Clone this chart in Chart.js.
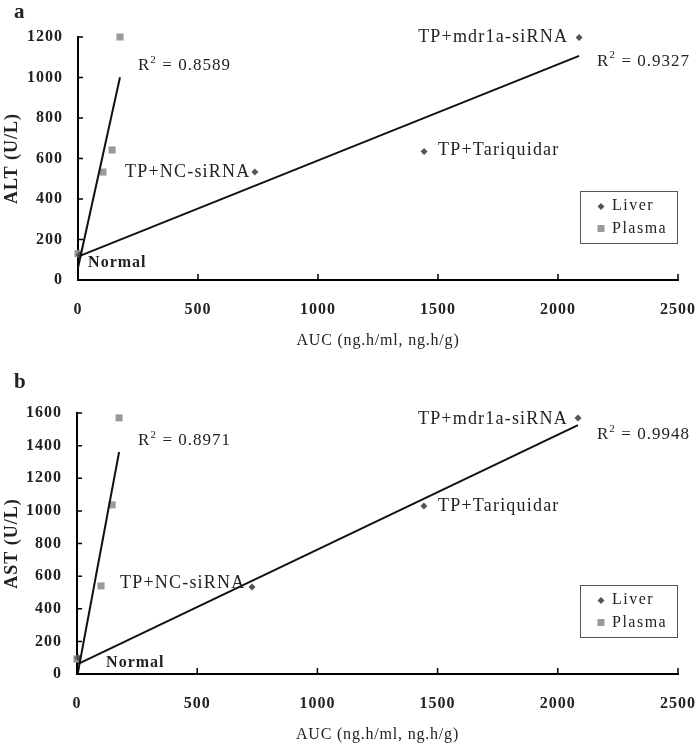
<!DOCTYPE html>
<html>
<head>
<meta charset="utf-8">
<script src="https://cdn.jsdelivr.net/npm/chart.js@4.4.1/dist/chart.umd.min.js"></script>
<style>
  html, body { margin: 0; padding: 0; background: #fff; }
  .panel { position: absolute; left: 0; width: 700px; }
  #wrapA { top: 0; height: 370px; }
  #wrapB { top: 370px; height: 379px; }
</style>
</head>
<body>
<div class="panel" id="wrapA"><canvas id="chartA" width="700" height="370"></canvas></div>
<div class="panel" id="wrapB"><canvas id="chartB" width="700" height="379"></canvas></div>
<script>
const FONT = '"Liberation Serif", "Times New Roman", serif'

// panel a: ALT vs AUC
const liverAucA = [5, 737, 1442, 2088]
const liverAltA = [125, 533, 635, 1197]
const plasmaAucA = [0, 104, 142, 175]
const plasmaAltA = [130, 533, 642, 1200]

// panel b: AST vs AUC
const liverAucB = [5, 728, 1443, 2084]
const liverAstB = [100, 534, 1030, 1570]
const plasmaAucB = [0, 100, 146, 175]
const plasmaAstB = [92, 540, 1037, 1570]

const xTicks = [0, 500, 1000, 1500, 2000, 2500]
const yTicksA = [0, 200, 400, 600, 800, 1000, 1200]
const yTicksB = [0, 200, 400, 600, 800, 1000, 1200, 1400, 1600]

// text notes, placed in data units
const notesA = [
  { text: "TP+mdr1a-siRNA", x: 2042, y: 1200, align: "right" },
  { text: "TP+Tariquidar", x: 1500, y: 642 },
  { text: "TP+NC-siRNA", x: 196, y: 533 },
  { text: "Normal", x: 42, y: 84, bold: true },
  { r2: "0.8589", x: 250, y: 1057 },
  { r2: "0.9327", x: 2163, y: 1081 }
]
const notesB = [
  { text: "TP+mdr1a-siRNA", x: 2042, y: 1564, align: "right" },
  { text: "TP+Tariquidar", x: 1502, y: 1031 },
  { text: "TP+NC-siRNA", x: 179, y: 558 },
  { text: "Normal", x: 121, y: 67, bold: true },
  { r2: "0.8971", x: 254, y: 1429 },
  { r2: "0.9948", x: 2163, y: 1466 }
]

function pts(xs, ys) {
  return xs.map((x, i) => ({ x: x, y: ys[i] }))
}

// least squares trendline over the data range
function fit(xs, ys) {
  const n = xs.length
  const mx = xs.reduce((a, b) => a + b, 0) / n
  const my = ys.reduce((a, b) => a + b, 0) / n
  let sxy = 0, sxx = 0
  for (let i = 0; i < n; i++) {
    sxy += (xs[i] - mx) * (ys[i] - my)
    sxx += (xs[i] - mx) * (xs[i] - mx)
  }
  const k = sxy / sxx
  const b = my - k * mx
  const x0 = Math.min(...xs), x1 = Math.max(...xs)
  return [{ x: x0, y: k * x0 + b }, { x: x1, y: k * x1 + b }]
}

const decor = {
  id: "decor",
  beforeDraw(chart) {
    // the reference type is set a little wide
    chart.ctx.letterSpacing = "1px"
  },
  afterDraw(chart, args, o) {
    const { ctx, chartArea: a, scales: { x, y } } = chart
    ctx.save()

    // inward tick marks
    ctx.strokeStyle = "#000"
    ctx.lineWidth = 1.5
    ctx.beginPath()
    x.ticks.forEach(t => {
      const px = x.getPixelForValue(t.value)
      ctx.moveTo(px, a.bottom)
      ctx.lineTo(px, a.bottom - 6)
    })
    y.ticks.forEach(t => {
      const py = y.getPixelForValue(t.value)
      ctx.moveTo(a.left, py)
      ctx.lineTo(a.left + 5, py)
    })
    ctx.stroke()

    ctx.fillStyle = "#222"
    ctx.textBaseline = "middle"

    // panel letter
    ctx.letterSpacing = "0px"
    ctx.font = "bold 21px " + FONT
    ctx.textAlign = "left"
    ctx.fillText(o.letter, 14, 13)

    // axis titles
    ctx.letterSpacing = "0.8px"
    ctx.font = "16px " + FONT
    ctx.textAlign = "center"
    ctx.fillText("AUC (ng.h/ml, ng.h/g)", (a.left + a.right) / 2, a.bottom + o.xTitleGap)
    ctx.save()
    ctx.translate(12, (a.top + a.bottom) / 2)
    ctx.rotate(-Math.PI / 2)
    ctx.letterSpacing = "1px"
    ctx.font = "bold 18px " + FONT
    ctx.fillText(o.yTitle, 0, 0)
    ctx.restore()

    // notes
    o.notes.forEach(n => {
      const px = x.getPixelForValue(n.x)
      const py = y.getPixelForValue(n.y)
      ctx.textAlign = n.align || "left"
      if (n.r2) {
        ctx.letterSpacing = "1px"
        ctx.font = "17px " + FONT
        ctx.fillText("R", px, py)
        const w = ctx.measureText("R").width
        ctx.font = "11px " + FONT
        ctx.fillText("2", px + w, py - 6)
        ctx.font = "17px " + FONT
        ctx.fillText("= " + n.r2, px + w + 12, py)
      } else if (n.bold) {
        ctx.letterSpacing = "1px"
        ctx.font = "bold 16px " + FONT
        ctx.fillText(n.text, px, py)
      } else {
        ctx.letterSpacing = "1.2px"
        ctx.font = "18px " + FONT
        ctx.fillText(n.text, px, py)
      }
    })

    // legend box
    const bw = 97, bh = 52
    const bx = a.right - 1 - bw, by = a.bottom - 37 - bh
    ctx.strokeStyle = "#555"
    ctx.lineWidth = 1
    ctx.strokeRect(bx + 0.5, by + 0.5, bw, bh)
    const mx = bx + 21
    ctx.fillStyle = "#555"
    ctx.beginPath()
    ctx.moveTo(mx, by + 12); ctx.lineTo(mx + 3.5, by + 15.5)
    ctx.lineTo(mx, by + 19); ctx.lineTo(mx - 3.5, by + 15.5)
    ctx.closePath(); ctx.fill()
    ctx.fillStyle = "#9a9a9a"
    ctx.fillRect(mx - 3.5, by + 34, 7, 7)
    ctx.fillStyle = "#222"
    ctx.letterSpacing = "1.5px"
    ctx.font = "16px " + FONT
    ctx.textAlign = "left"
    ctx.fillText("Liver", mx + 11, by + 15)
    ctx.fillText("Plasma", mx + 11, by + 38)

    ctx.restore()
  }
}

function makeChart(id, liver, plasma, yTicks, yMax, opt) {
  const liverFit = fit(liver[0], liver[1])
  const plasmaFit = fit(plasma[0], plasma[1])
  return new Chart(document.getElementById(id), {
    type: "scatter",
    data: {
      datasets: [
        {
          type: "line",
          data: liverFit,
          borderColor: "#111",
          borderWidth: 2,
          pointRadius: 0,
          fill: false
        },
        {
          type: "line",
          data: plasmaFit,
          borderColor: "#111",
          borderWidth: 2,
          pointRadius: 0,
          fill: false
        },
        {
          label: "Liver",
          data: pts(liver[0], liver[1]),
          pointStyle: "rectRot",
          pointRadius: 3.5,
          backgroundColor: "#555",
          borderWidth: 0,
          clip: false
        },
        {
          label: "Plasma",
          data: pts(plasma[0], plasma[1]),
          pointStyle: "rect",
          pointRadius: 5,
          backgroundColor: "#9a9a9a",
          borderWidth: 0,
          clip: false
        }
      ]
    },
    options: {
      responsive: false,
      animation: false,
      layout: { padding: { left: 0, top: opt.top, right: 22, bottom: 0 } },
      plugins: {
        legend: { display: false },
        tooltip: { enabled: false },
        decor: opt
      },
      scales: {
        x: {
          type: "linear",
          min: 0,
          max: 2500,
          afterBuildTicks: s => { s.ticks = xTicks.map(v => ({ value: v })) },
          afterFit: s => { s.height = opt.xHeight; s.paddingLeft = 0; s.paddingRight = 0 },
          grid: { display: false, drawTicks: false },
          border: { display: true, color: "#000", width: 2 },
          ticks: {
            color: "#222",
            padding: 20,
            callback: v => String(v),
            font: { family: FONT, size: 16, weight: "bold" }
          }
        },
        y: {
          type: "linear",
          min: 0,
          max: yMax,
          afterBuildTicks: s => { s.ticks = yTicks.map(v => ({ value: v })) },
          afterFit: s => { s.width = opt.left; s.paddingTop = 0; s.paddingBottom = 0 },
          grid: { display: false, drawTicks: false },
          border: { display: true, color: "#000", width: 2 },
          ticks: {
            color: "#222",
            padding: 15,
            callback: v => String(v),
            font: { family: FONT, size: 16, weight: "bold" }
          }
        }
      }
    },
    plugins: [decor]
  })
}

makeChart("chartA", [liverAucA, liverAltA], [plasmaAucA, plasmaAltA], yTicksA, 1200,
  { letter: "a", yTitle: "ALT (U/L)", notes: notesA, top: 37, left: 78, xHeight: 90, xTitleGap: 61 })
makeChart("chartB", [liverAucB, liverAstB], [plasmaAucB, plasmaAstB], yTicksB, 1600,
  { letter: "b", yTitle: "AST (U/L)", notes: notesB, top: 43, left: 77, xHeight: 75, xTitleGap: 61 })
</script>
</body>
</html>
